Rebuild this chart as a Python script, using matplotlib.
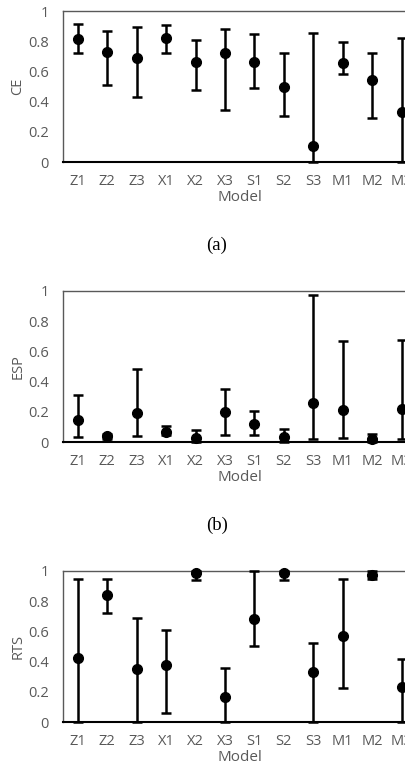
import numpy as np
import matplotlib
matplotlib.use("Agg")
import matplotlib.pyplot as plt

models = ['Z1', 'Z2', 'Z3', 'X1', 'X2', 'X3', 'S1', 'S2', 'S3', 'M1', 'M2', 'M3']

# panel (a) CE
ce_mid = [0.815, 0.731, 0.692, 0.822, 0.665, 0.720, 0.659, 0.500, 0.104, 0.654, 0.544, 0.333]
ce_hi = [0.912, 0.866, 0.896, 0.905, 0.808, 0.879, 0.848, 0.725, 0.857, 0.797, 0.725, 0.819]
ce_lo = [0.725, 0.511, 0.430, 0.725, 0.478, 0.346, 0.493, 0.306, 0.000, 0.584, 0.289, 0.000]

# panel (b) ESP
esp_mid = [0.145, 0.037, 0.194, 0.064, 0.024, 0.200, 0.117, 0.035, 0.256, 0.211, 0.020, 0.218]
esp_hi = [0.311, 0.050, 0.482, 0.108, 0.080, 0.352, 0.203, 0.086, 0.974, 0.670, 0.055, 0.674]
esp_lo = [0.035, 0.020, 0.037, 0.044, 0.000, 0.046, 0.044, 0.000, 0.022, 0.026, 0.000, 0.018]

# panel (c) RTS
rts_mid = [0.422, 0.844, 0.354, 0.378, 0.989, 0.167, 0.679, 0.989, 0.332, 0.567, 0.971, 0.235]
rts_hi = [0.945, 0.945, 0.690, 0.611, 1.000, 0.358, 1.000, 1.000, 0.523, 0.945, 1.000, 0.415]
rts_lo = [0.000, 0.725, 0.000, 0.057, 0.941, 0.000, 0.501, 0.941, 0.000, 0.224, 0.945, 0.000]

W, H = 406, 782
GREY = '#595959'
plt.rcParams['font.family'] = ['Open Sans', 'DejaVu Sans']

fig = plt.figure(figsize=(W / 100, H / 100), dpi=100)


def panel(top_px, bot_px, mid, lo, hi, ylab):
    ax = fig.add_axes([63 / W, (H - bot_px) / H, 353.4 / W, (bot_px - top_px) / H])
    x = np.arange(len(models))
    mid = np.array(mid)
    yerr = [mid - np.array(lo), np.array(hi) - mid]
    ax.errorbar(x, mid, yerr=yerr, fmt='o', color='black', ms=7,
                elinewidth=1.8, capsize=3.8, capthick=1.8, clip_on=False, zorder=3)
    ax.set_xlim(-0.5, len(models) - 0.5)
    ax.set_ylim(0, 1)
    ax.set_xticks(x)
    ax.set_xticklabels(models)
    ax.set_yticks([0, 0.2, 0.4, 0.6, 0.8, 1])
    ax.set_yticklabels(['0', '0.2', '0.4', '0.6', '0.8', '1'])
    ax.tick_params(length=0, labelsize=10.5, colors=GREY)
    ax.tick_params(axis='x', pad=8.5)
    ax.tick_params(axis='y', pad=10)
    for s in ['top', 'left', 'right']:
        ax.spines[s].set_color(GREY)
        ax.spines[s].set_linewidth(1.0)
    ax.spines['bottom'].set_color('black')
    ax.spines['bottom'].set_linewidth(1.5)
    ax.set_ylabel(ylab, fontsize=10.5, color=GREY, labelpad=2)
    ax.set_xlabel('Model', fontsize=11, color=GREY, labelpad=1)
    return ax


panel(11, 162, ce_mid, ce_lo, ce_hi, 'CE')
panel(291, 442, esp_mid, esp_lo, esp_hi, 'ESP')
panel(571, 722, rts_mid, rts_lo, rts_hi, 'RTS')

fig.text(217 / W, 1 - 245 / H, '(a)', ha='center', va='center',
         family='Liberation Serif', fontsize=13.5)
fig.text(217 / W, 1 - 525 / H, '(b)', ha='center', va='center',
         family='Liberation Serif', fontsize=13.5)

fig.savefig('out.png', dpi=100)
